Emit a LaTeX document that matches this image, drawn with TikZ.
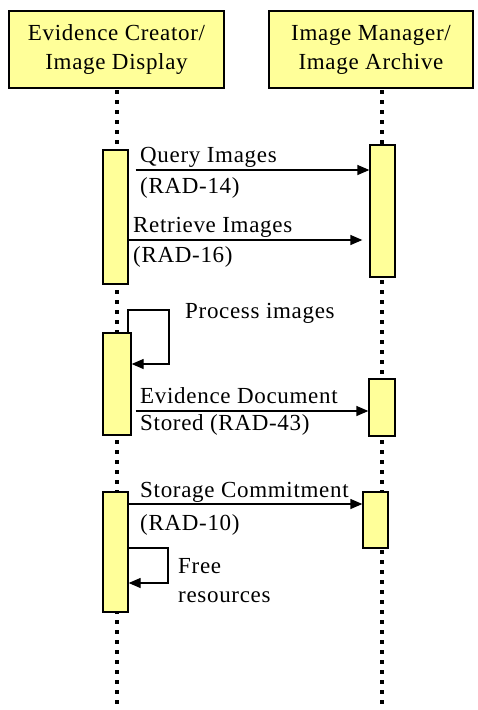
\documentclass[tikz,border=0pt]{standalone}
\usepackage{fontspec}
\setmainfont{Liberation Serif}[LetterSpace=3]
\usetikzlibrary{arrows.meta}
\definecolor{paleyellow}{RGB}{255,255,153}
\tikzset{
  header/.style={draw=black, line width=1.5pt, fill=paleyellow, inner sep=0pt,
    align=center, font=\fontsize{23}{29}\selectfont},
  act/.style={draw=black, line width=1.3pt, fill=paleyellow, inner sep=0pt},
  lifeline/.style={line width=4pt, dash pattern=on 4pt off 6pt},
  msg/.style={line width=1.3pt, -{Triangle[length=12pt,width=10pt]}},
  lbl/.style={anchor=base west, inner sep=0pt, font=\fontsize{23}{29}\selectfont}
}
\newcommand{\twolines}[3]{{\fontsize{23}{#1}\selectfont\begin{tabular}[t]{@{}l@{}}#2\\#3\end{tabular}}}
\begin{document}
\begin{tikzpicture}[x=1pt,y=-1pt]
\useasboundingbox (0,0) rectangle (477,710);
% lifelines
\coordinate (lt) at (117,90);
\coordinate (lb) at (117,710);
\coordinate (rt) at (382,90);
\coordinate (rb) at (382,710);
\draw[lifeline] (lt) -- (lb);
\draw[lifeline] (rt) -- (rb);
% headers
\node[header, minimum width=215pt, minimum height=77pt] (hl) at (116.5,49.5) {Evidence Creator/\\Image Display};
\node[header, minimum width=204pt, minimum height=77pt] (hr) at (371,49.5) {Image Manager/\\Image Archive};
% activation boxes
\node[act, minimum width=25pt, minimum height=134pt] (l1) at (115.5,217) {};
\node[act, minimum width=25pt, minimum height=132pt] (r1) at (382.5,211) {};
\node[act, minimum width=28pt, minimum height=102pt] (l2) at (117,384) {};
\node[act, minimum width=26pt, minimum height=57pt] (r2) at (382,407.5) {};
\node[act, minimum width=25pt, minimum height=120pt] (l3) at (115.5,552) {};
\node[act, minimum width=25pt, minimum height=56pt] (r3) at (375.5,520) {};
% message heights
\coordinate (y1) at (0,170);
\coordinate (y2) at (0,240);
\coordinate (y3) at (0,411);
\coordinate (y4) at (0,504);
% messages
\draw[msg, shorten <=7pt] (l1.east |- y1) -- (r1.west |- y1);
\draw[msg, shorten >=7pt] (l1.east |- y2) -- (r1.west |- y2);
\draw[msg, shorten <=4pt] (l2.east |- y3) -- (r2.west |- y3);
\draw[msg] (l3.east |- y4) -- (r3.west |- y4);
% self loop: process images
\coordinate (p1) at (128,333);
\coordinate (p2) at (128,310);
\coordinate (p3) at (169,310);
\coordinate (p4) at (169,364);
\draw[msg] (p1) -- (p2) -- (p3) -- (p4) -- (l2.east |- p4);
% self loop: free resources
\coordinate (f1) at (168,548);
\coordinate (f2) at (168,583);
\draw[msg] (l3.east |- f1) -- (f1) -- (f2) -- (l3.east |- f2);
% labels
\node[lbl] (t1) at (140,162) {\twolines{31}{Query Images}{(RAD-14)}};
\node[lbl] (t2) at (133,232) {\twolines{30}{Retrieve Images}{(RAD-16)}};
\node[lbl] (t3) at (185,318) {Process images};
\node[lbl] (t4) at (140,403) {\twolines{27}{Evidence Document}{Stored (RAD-43)}};
\node[lbl] (t5) at (140,497) {\twolines{33}{Storage Commitment}{(RAD-10)}};
\node[lbl] (t6) at (178,573) {\twolines{29}{Free}{resources}};
\end{tikzpicture}
\end{document}
